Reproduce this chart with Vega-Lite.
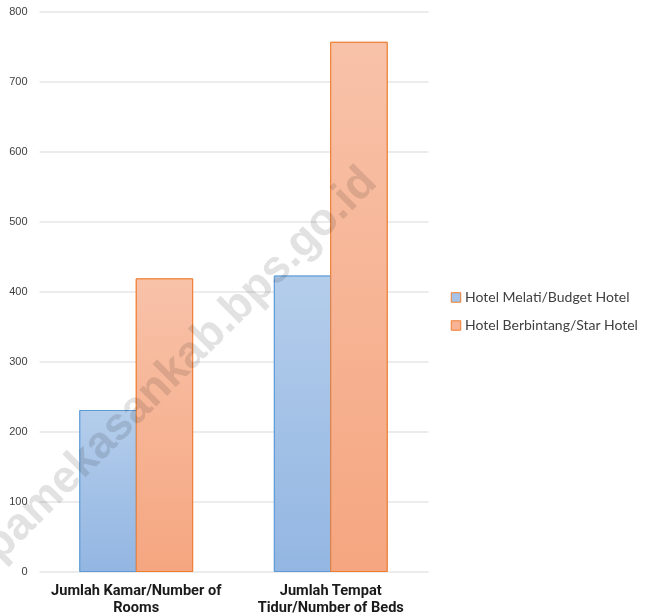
{
  "$schema": "https://vega.github.io/schema/vega-lite/v6.json",
  "width": 389,
  "height": 560,
  "autosize": "none",
  "padding": {"left": 39, "top": 11.5, "right": 217, "bottom": 44.5},
  "background": "white",
  "config": {
    "view": {"stroke": null},
    "font": "Liberation Sans"
  },
  "data": {
    "values": [
      {"cat": "Jumlah Kamar/Number of Rooms", "type": "Hotel Melati/Budget Hotel", "value": 230},
      {"cat": "Jumlah Kamar/Number of Rooms", "type": "Hotel Berbintang/Star Hotel", "value": 418},
      {"cat": "Jumlah Tempat Tidur/Number of Beds", "type": "Hotel Melati/Budget Hotel", "value": 422},
      {"cat": "Jumlah Tempat Tidur/Number of Beds", "type": "Hotel Berbintang/Star Hotel", "value": 756}
    ]
  },
  "encoding": {
    "x": {
      "field": "cat",
      "type": "nominal",
      "sort": null,
      "title": null,
      "scale": {"paddingInner": 0.42, "paddingOuter": 0.21},
      "axis": {
        "labelAngle": 0,
        "domain": false,
        "ticks": false,
        "labelFont": "Roboto",
        "labelFontWeight": "bold",
        "labelFontSize": 14.6,
        "labelColor": "#1a1a1a",
        "labelPadding": 11,
        "labelLineHeight": 17,
        "labelLimit": 300,
        "labelExpr": "datum.label == 'Jumlah Kamar/Number of Rooms' ? ['Jumlah Kamar/Number of', 'Rooms'] : ['Jumlah Tempat', 'Tidur/Number of Beds']"
      }
    },
    "y": {
      "field": "value",
      "type": "quantitative",
      "title": null,
      "scale": {"domain": [0, 800], "nice": false},
      "axis": {
        "values": [0, 100, 200, 300, 400, 500, 600, 700, 800],
        "domain": false,
        "ticks": false,
        "grid": true,
        "gridColor": "#d9d9d9",
        "gridWidth": 1,
        "labelFont": "Liberation Sans",
        "labelFontSize": 11,
        "labelColor": "#404040",
        "labelPadding": 12
      }
    },
    "xOffset": {"field": "type", "type": "nominal", "sort": ["Hotel Melati/Budget Hotel", "Hotel Berbintang/Star Hotel"], "scale": {"paddingInner": 0, "paddingOuter": 0}}
  },
  "layer": [
    {
      "mark": {"type": "bar", "strokeWidth": 1},
      "encoding": {
        "fill": {
          "field": "type",
          "type": "nominal",
          "sort": ["Hotel Melati/Budget Hotel", "Hotel Berbintang/Star Hotel"],
          "scale": {"range": ["#a5c3e8", "#f7b394"]},
          "legend": {
            "title": null,
            "orient": "none",
            "legendX": 410,
            "legendY": 279,
            "symbolType": "square",
            "symbolSize": 90,
            "symbolStrokeWidth": 1,
            "labelFont": "Lato",
            "labelFontSize": 14,
            "labelColor": "#404040",
            "rowPadding": 14,
            "labelOffset": 2,
            "labelLimit": 300,
            "encode": {
              "symbols": {
                "update": {
                  "stroke": {"signal": "datum.value === 'Hotel Melati/Budget Hotel' ? '#5b9bd5' : '#ed7d31'"},
                  "strokeWidth": {"value": 1}
                }
              }
            }
          }
        },
        "stroke": {
          "condition": {"test": "datum.type === 'Hotel Melati/Budget Hotel'", "value": "#5b9bd5"},
          "value": "#ed7d31"
        }
      }
    },
    {
      "mark": {"type": "bar", "strokeWidth": 1},
      "encoding": {
        "fill": {
          "condition": {
            "test": "datum.type === 'Hotel Melati/Budget Hotel'",
            "value": {"gradient": "linear", "x1": 0, "y1": 0, "x2": 0, "y2": 1, "stops": [{"offset": 0, "color": "#b4cdeb"}, {"offset": 1, "color": "#93b6e2"}]}
          },
          "value": {"gradient": "linear", "x1": 0, "y1": 0, "x2": 0, "y2": 1, "stops": [{"offset": 0, "color": "#f8c2a9"}, {"offset": 1, "color": "#f5a680"}]}
        },
        "stroke": {
          "condition": {"test": "datum.type === 'Hotel Melati/Budget Hotel'", "value": "#5b9bd5"},
          "value": "#ed7d31"
        }
      }
    },
    {
      "transform": [{"filter": "datum.cat === 'Jumlah Kamar/Number of Rooms' && datum.type === 'Hotel Melati/Budget Hotel'"}],
      "mark": {
        "type": "text",
        "text": "pamekasankab.bps.go.id",
        "angle": -45,
        "align": "center",
        "baseline": "alphabetic",
        "font": "Liberation Sans",
        "fontWeight": "bold",
        "fontSize": 45,
        "color": "#e2e2e2",
        "blend": "multiply"
      },
      "encoding": {
        "x": {"datum": "Jumlah Kamar/Number of Rooms", "type": "nominal", "bandPosition": 0.97},
        "y": {"datum": 283, "type": "quantitative"},
        "xOffset": null
      }
    }
  ]
}
